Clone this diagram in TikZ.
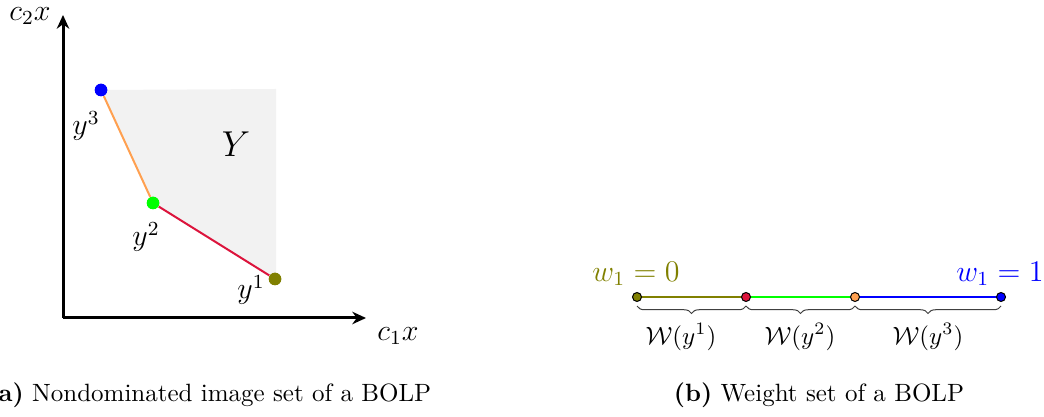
\documentclass[tikz,border=0pt]{standalone}
\usetikzlibrary{arrows.meta,decorations.pathreplacing}
\definecolor{cOlive}{RGB}{128,128,0}
\definecolor{cCrim}{RGB}{220,20,60}
\definecolor{cGreen}{RGB}{0,255,0}
\definecolor{cOrange}{RGB}{255,160,80}
\definecolor{cBlue}{RGB}{0,0,255}
\definecolor{cRegion}{RGB}{242,242,242}
\begin{document}
\begin{tikzpicture}[x=0.4pt,y=-0.4pt,
  axis/.style={line width=1.2pt,-{Stealth[length=5.5pt,width=5pt]}},
  bigdot/.style={circle,inner sep=0pt,minimum size=5pt},
  smalldot/.style={circle,draw=black,line width=0.4pt,inner sep=0pt,minimum size=3.6pt},
  seg/.style={line width=0.8pt},
  wseg/.style={line width=1pt},
  lbl/.style={inner sep=0pt,font=\large},
  brc/.style={decorate,decoration={brace,mirror,amplitude=3pt},draw=black!75,line width=0.4pt},
  captxt/.style={inner sep=0pt,anchor=base}]
\useasboundingbox (0,0) rectangle (1044,417);
% left panel
\coordinate (O) at (63,318);
\coordinate (Ytip) at (63,15);
\coordinate (Xtip) at (366,318);
\coordinate (TR) at (276,89);
\fill[cRegion] (101,90) -- (TR) -- (276,279) -- (153,203) -- cycle;
\draw[axis] (O) -- (Ytip);
\draw[axis] (O) -- (Xtip);
\node[bigdot,fill=cBlue] (y3) at (101,90) {};
\node[bigdot,fill=cGreen] (y2) at (153,203) {};
\node[bigdot,fill=cOlive] (y1) at (275,279) {};
\draw[seg,cOrange] (y3) -- (y2);
\draw[seg,cCrim] (y2) -- (y1);
\node[bigdot,fill=cBlue] at (y3) {};
\node[bigdot,fill=cGreen] at (y2) {};
\node[bigdot,fill=cOlive] at (y1) {};
\node[lbl] (c2) at (30,16) {$c_2x$};
\node[lbl] (c1) at (398,336) {$c_1x$};
\node[lbl,font=\Large] (Yl) at (236,144) {$Y$};
\node[lbl] (l3) at (86,126) {$y^3$};
\node[lbl] (l2) at (146,237) {$y^2$};
\node[lbl] (l1) at (251,290) {$y^1$};
\node[captxt,anchor=base west] (capa) at (-13,402) {\textbf{(a)} Nondominated image set of a BOLP};
% right panel
\coordinate (p0) at (637,297);
\coordinate (p1) at (746,297);
\coordinate (p2) at (855,297);
\coordinate (p3) at (1001,297);
\draw[wseg,cOlive] (p0) -- (p1);
\draw[wseg,cGreen] (p1) -- (p2);
\draw[wseg,cBlue] (p2) -- (p3);
\node[smalldot,fill=cOlive] (d0) at (p0) {};
\node[smalldot,fill=cCrim] (d1) at (p1) {};
\node[smalldot,fill=cOrange] (d2) at (p2) {};
\node[smalldot,fill=cBlue] (d3) at (p3) {};
\draw[brc] (637,306) -- (746,306);
\draw[brc] (746,306) -- (855,306);
\draw[brc] (855,306) -- (1001,306);
\node[inner sep=0pt] (W1) at (681,337) {$\mathcal{W}(y^1)$};
\node[inner sep=0pt] (W2) at (800,337) {$\mathcal{W}(y^2)$};
\node[inner sep=0pt] (W3) at (928,337) {$\mathcal{W}(y^3)$};
\node[lbl,text=cOlive] (w0) at (636,274) {$w_1=0$};
\node[lbl,text=cBlue] (w1) at (1000,274) {$w_1=1$};
\node[captxt] (capb) at (819,402) {\textbf{(b)} Weight set of a BOLP};
\end{tikzpicture}
\end{document}
